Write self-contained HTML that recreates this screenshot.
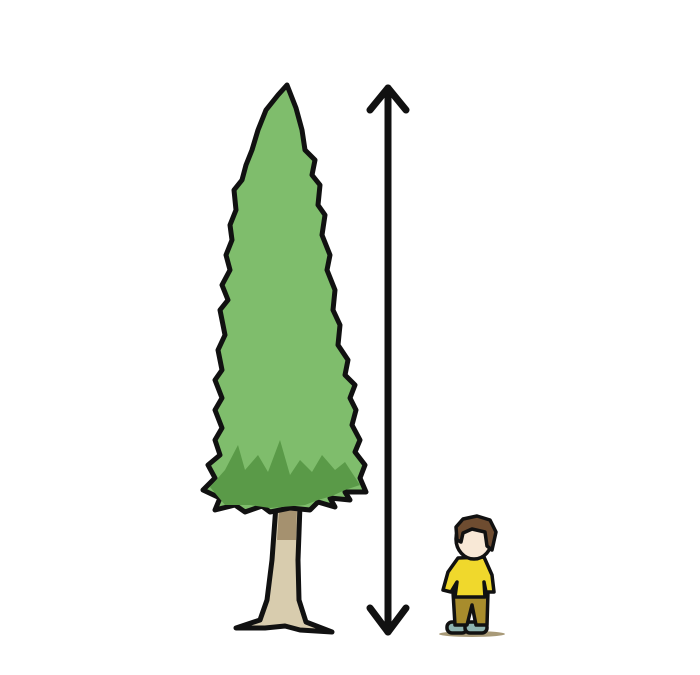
<!DOCTYPE html>
<html><head><meta charset="utf-8"><style>html,body{margin:0;padding:0;background:#fff}svg{display:block}</style></head>
<body>
<svg width="700" height="675" viewBox="0 0 700 675">
<g stroke="#111" stroke-width="5" stroke-linejoin="round" stroke-linecap="round">
 <path fill="#d8ccae" d="M276,505 L300,505 L298,560 L299,600 L306,622 L332,632 L300,630 L285,626 L265,628 L236,628 L260,620 L267,600 L272,560 Z"/>
 <path fill="#a5916f" stroke="none" d="M279,510 L297,510 L296,540 L277,540 Z"/>
 <path fill="#7fbd6c" d="M287,85 L296,108 L302,130 L305,150 L315,160 L312,175 L320,185 L318,205 L325,215 L322,235 L330,255 L327,270 L335,290 L333,310 L340,325 L338,345 L348,360 L345,375 L355,385 L350,398 L356,410 L352,425 L360,440 L355,452 L365,465 L360,478 L366,492 L345,492 L350,500 L330,498 L335,507 L318,502 L310,510 L290,508 L270,512 L262,506 L245,512 L235,505 L215,510 L220,498 L203,490 L215,478 L208,465 L220,455 L215,440 L222,428 L215,410 L222,398 L215,380 L222,370 L218,350 L225,335 L220,310 L228,300 L222,285 L230,270 L226,255 L232,240 L230,225 L236,210 L234,190 L242,180 L246,165 L252,150 L258,130 L266,110 L278,95 Z"/>
 <path fill="#5a9a48" stroke="none" d="M210,487 L225,470 L238,445 L245,470 L258,455 L268,472 L280,440 L290,475 L300,460 L312,472 L322,455 L335,470 L345,462 L360,485 L345,490 L332,496 L318,500 L305,505 L270,508 L250,505 L225,505 Z"/>
</g>
<g stroke="#111" stroke-width="7" stroke-linecap="round" stroke-linejoin="round" fill="none">
 <line x1="388" y1="88" x2="388" y2="632"/>
 <polyline points="370,110 388,88 406,110"/>
 <polyline points="370,608 388,632 406,608"/>
</g>
<g stroke="#111" stroke-width="3.5" stroke-linejoin="round">
 <ellipse cx="472" cy="634" rx="33" ry="3" fill="#a89a78" stroke="none"/>
 <rect x="447" y="622" width="20" height="11" rx="5" fill="#8fb4b0"/>
 <rect x="465" y="622" width="22" height="11" rx="5" fill="#8fb4b0"/>
 <path fill="#a88c2c" d="M453,592 L488,592 L487,625 L476,625 L472,605 L467,625 L455,625 Z"/>
 <path fill="#f0d82c" d="M458,558 L484,557 L492,575 L494,592 L486,592 L484,582 L485,597 L455,597 L457,582 L451,592 L443,590 L448,572 Z"/>
 <ellipse cx="474" cy="539" rx="18" ry="20" fill="#f8e8d6"/>
 <path fill="#6e4c30" d="M457,540 L456,527 L463,519 L477,516 L490,520 L496,532 L492,550 L487,546 L485,532 L472,529 L463,533 L461,542 Z"/>
</g>
</svg>
</body></html>
